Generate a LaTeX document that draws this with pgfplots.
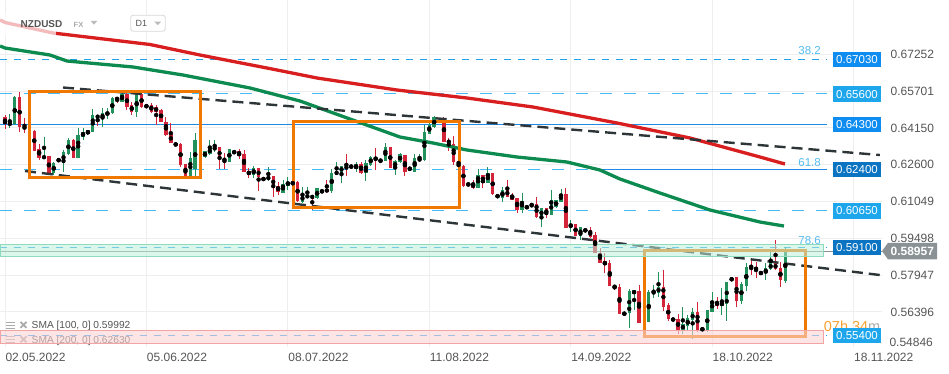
\documentclass[border=0pt]{standalone}
\usepackage{pgfplots}
\usepackage{pgfplotstable}
\pgfplotsset{compat=1.18}
\usepackage{fontspec}
\setmainfont{Liberation Sans}
\newcommand\fs[1]{\fontsize{#1}{#1}\selectfont}
\definecolor{gridc}{HTML}{EEEEEE}
\definecolor{labc}{HTML}{555555}
\definecolor{cg}{HTML}{23915C}
\definecolor{cr}{HTML}{D3243A}
\definecolor{smar}{HTML}{D81E1E}
\definecolor{smag}{HTML}{0C8A4F}
\definecolor{trend}{HTML}{2E3538}
\definecolor{orng}{HTML}{F07800}
\definecolor{orng2}{HTML}{F7A030}
\definecolor{lvla}{HTML}{1FA2EC}
\definecolor{lvlb}{HTML}{45BBF3}
\definecolor{lvls}{HTML}{1E8AE6}
\definecolor{boxa}{HTML}{0E8CF0}
\definecolor{boxb}{HTML}{1DA6EC}
\definecolor{boxc}{HTML}{0A74C2}
\definecolor{tagg}{HTML}{8A9295}
\definecolor{fibc}{HTML}{55BBEE}
\definecolor{bandg}{HTML}{BDEEDB}
\definecolor{bandgb}{HTML}{8FDBBE}
\definecolor{bandp}{HTML}{FBD3D3}
\definecolor{bandpb}{HTML}{F2A3A3}
\definecolor{icon}{HTML}{AAAAAA}

\pgfplotstableread{
i o h l c
1 0.64272 0.64723 0.64133 0.64369
2 0.64315 0.65495 0.64294 0.65440
8 0.62869 0.63779 0.62840 0.62966
10 0.62237 0.62713 0.62165 0.62684
11 0.62743 0.62861 0.62722 0.62840
12 0.62671 0.63219 0.62305 0.63147
13 0.63050 0.63712 0.63008 0.63640
15 0.62895 0.64159 0.62882 0.63851
16 0.63779 0.64133 0.63640 0.63965
17 0.63881 0.64083 0.63851 0.64049
18 0.63990 0.64947 0.63969 0.64694
20 0.64538 0.64976 0.64201 0.64766
21 0.64694 0.64976 0.64525 0.64833
22 0.64766 0.65465 0.64736 0.65398
24 0.65254 0.65676 0.65233 0.65566
27 0.64808 0.65676 0.64622 0.65566
35 0.63409 0.63514 0.63396 0.63501
38 0.62136 0.63135 0.62115 0.62869
39 0.62406 0.63948 0.62123 0.63640
41 0.62911 0.63198 0.62890 0.63177
42 0.63050 0.63640 0.63008 0.63303
43 0.63219 0.63640 0.63147 0.63358
46 0.62726 0.63282 0.62713 0.63261
47 0.63080 0.63198 0.63059 0.63177
51 0.62165 0.62545 0.62026 0.62473
53 0.61925 0.62081 0.61913 0.62069
54 0.61955 0.62490 0.61925 0.62123
57 0.61420 0.61955 0.61394 0.61786
58 0.61715 0.62094 0.61533 0.61883
59 0.61786 0.61871 0.61765 0.61858
61 0.61040 0.61673 0.60998 0.61323
62 0.61209 0.61673 0.61184 0.61323
64 0.61184 0.61618 0.61167 0.61605
65 0.61420 0.61555 0.61407 0.61533
67 0.61491 0.62406 0.61420 0.62263
68 0.62178 0.62726 0.62165 0.62334
69 0.62263 0.62566 0.61841 0.62545
72 0.62431 0.62726 0.62279 0.62629
74 0.62263 0.62798 0.61925 0.62684
75 0.62587 0.62966 0.62566 0.62937
77 0.62701 0.62861 0.62659 0.62852
78 0.62768 0.63527 0.62755 0.63358
80 0.62473 0.62798 0.62165 0.62755
81 0.62701 0.63105 0.62659 0.63038
84 0.62305 0.63038 0.62292 0.62882
85 0.62755 0.63038 0.62734 0.62882
86 0.62798 0.64272 0.62768 0.63990
87 0.63893 0.64369 0.63881 0.64272
88 0.64201 0.64652 0.64133 0.64597
95 0.61723 0.61828 0.61710 0.61816
97 0.61639 0.62439 0.61618 0.62165
99 0.61841 0.62490 0.61816 0.62237
102 0.61217 0.61647 0.61040 0.61555
106 0.60712 0.61420 0.60552 0.61070
107 0.60762 0.60872 0.60745 0.60859
108 0.60817 0.61007 0.60804 0.60956
110 0.60383 0.60775 0.59987 0.60762
112 0.60493 0.61533 0.60480 0.61112
113 0.60804 0.61133 0.60788 0.61112
114 0.61028 0.61597 0.61015 0.61386
116 0.59962 0.60269 0.59776 0.60122
118 0.59595 0.59974 0.59426 0.59962
128 0.56338 0.57349 0.55705 0.57277
129 0.57151 0.57319 0.56477 0.57307
132 0.55984 0.57319 0.55971 0.57222
133 0.57151 0.57530 0.56970 0.57277
134 0.57206 0.58091 0.57037 0.57433
137 0.56026 0.56139 0.56013 0.56127
139 0.55634 0.56616 0.55465 0.55874
140 0.55815 0.56266 0.55634 0.56127
141 0.56055 0.56574 0.55255 0.56380
144 0.55604 0.56477 0.55562 0.56464
145 0.56405 0.57222 0.56380 0.56869
147 0.56658 0.57416 0.56266 0.56801
148 0.56729 0.57678 0.56026 0.57669
149 0.57711 0.57846 0.57699 0.57838
151 0.56869 0.57669 0.56729 0.57560
152 0.57501 0.58445 0.57290 0.58301
156 0.58023 0.58445 0.57741 0.58234
157 0.58192 0.58933 0.58183 0.58445
160 0.57711 0.59144 0.57602 0.58957
}\upT

\pgfplotstableread{
i o h l c
0 0.64597 0.64694 0.64091 0.64315
3 0.65440 0.65676 0.63965 0.64176
4 0.64218 0.64555 0.63923 0.64104
6 0.64020 0.64062 0.63177 0.63189
7 0.63261 0.63459 0.62785 0.62895
9 0.62966 0.62987 0.62165 0.62237
14 0.63640 0.63683 0.62882 0.62895
19 0.64694 0.64715 0.64243 0.64555
23 0.65440 0.65473 0.65187 0.65313
25 0.65566 0.65676 0.64905 0.65044
26 0.65115 0.65254 0.64694 0.64808
28 0.65566 0.65608 0.65002 0.65044
29 0.65115 0.65136 0.64989 0.65018
30 0.65115 0.65187 0.64799 0.64833
31 0.65031 0.65115 0.64272 0.64820
32 0.64905 0.64926 0.64390 0.64412
33 0.64412 0.64610 0.63830 0.63851
34 0.63893 0.64344 0.63514 0.63527
36 0.63472 0.63527 0.62515 0.62587
37 0.62629 0.62650 0.61984 0.62136
44 0.63345 0.63366 0.62406 0.62827
45 0.62895 0.63080 0.62431 0.62726
48 0.63177 0.63261 0.62827 0.62979
49 0.63050 0.63219 0.62292 0.62305
50 0.62347 0.62448 0.62052 0.62165
52 0.62448 0.62460 0.61491 0.62069
55 0.62123 0.62144 0.61251 0.61630
56 0.61702 0.61883 0.61323 0.61449
60 0.61883 0.61925 0.61049 0.61070
63 0.61323 0.61344 0.60691 0.61167
66 0.61576 0.61955 0.61420 0.61449
70 0.62545 0.63050 0.62136 0.62418
71 0.62574 0.62587 0.62448 0.62473
73 0.62629 0.62726 0.62220 0.62237
76 0.62924 0.63316 0.62376 0.62798
79 0.63333 0.63345 0.62460 0.62473
82 0.63008 0.63029 0.62136 0.62305
83 0.62473 0.62515 0.62355 0.62376
90 0.64555 0.64622 0.63556 0.63569
91 0.63640 0.63712 0.63189 0.63501
92 0.63459 0.63809 0.62587 0.62726
93 0.62755 0.62798 0.62376 0.62587
94 0.62566 0.62587 0.61660 0.61689
96 0.61816 0.61955 0.61597 0.61618
98 0.62165 0.62187 0.61618 0.61841
100 0.62237 0.62250 0.61335 0.61352
101 0.61323 0.61335 0.61209 0.61226
103 0.61555 0.61955 0.61238 0.61251
104 0.61323 0.61407 0.61112 0.61125
105 0.61205 0.61217 0.60585 0.60691
109 0.60943 0.61260 0.60375 0.60383
111 0.60762 0.60775 0.60353 0.60493
115 0.61378 0.61605 0.59932 0.59945
117 0.60101 0.60122 0.59582 0.59595
119 0.59890 0.59902 0.59764 0.59776
120 0.59848 0.59987 0.59523 0.59540
121 0.59637 0.59776 0.58879 0.58891
122 0.58891 0.59089 0.58445 0.58470
123 0.58541 0.58866 0.58023 0.58373
124 0.58445 0.58584 0.57475 0.57488
125 0.57530 0.57543 0.57319 0.57391
126 0.57433 0.57572 0.56295 0.56308
127 0.56380 0.56392 0.56253 0.56266
130 0.57298 0.57530 0.55937 0.55950
135 0.57433 0.58162 0.56447 0.56616
136 0.56687 0.56759 0.56013 0.56085
138 0.56085 0.56295 0.55465 0.55634
142 0.56380 0.56801 0.55562 0.55634
143 0.55705 0.55718 0.55613 0.55634
146 0.56826 0.57037 0.56519 0.56658
150 0.57855 0.57880 0.56616 0.56869
153 0.58301 0.58655 0.57951 0.58192
154 0.58301 0.58487 0.57838 0.58133
155 0.58091 0.58120 0.57951 0.57981
158 0.58445 0.59426 0.58162 0.58192
159 0.58259 0.58512 0.57433 0.57741
}\downT

\pgfplotstableread{
i p
-1.0 0.68700
0 0.68592
9.84 0.68149
29.73 0.67665
39.98 0.67222
53.72 0.66674
63.97 0.66253
80.38 0.65747
94.73 0.65410
108.26 0.65031
125.49 0.64357
140.46 0.63725
154.81 0.62924
159.93 0.62629
}\smaTwo

\pgfplotstableread{
i p
-1.0 0.67602
0 0.67517
9.23 0.67222
12.71 0.66969
26.25 0.66717
36.50 0.66379
50.24 0.65832
60.49 0.65284
70.74 0.64525
80.99 0.63767
87.76 0.63514
94.73 0.63219
104.98 0.62924
115.23 0.62713
122.0 0.62376
126.1 0.61997
134.3 0.61407
144.55 0.60691
154.81 0.60185
159.73 0.60016
}\smaOne

\begin{document}
\begin{tikzpicture}
% legend (under the bands)
\begin{scope}[x=1pt, y=-1pt, shift={(0pt,346.9pt)}]
  \foreach \yy in {0,14.5}{
    \draw[icon, line width=1.2pt] (6,322.3+\yy) -- (15,322.3+\yy) (6,325.3+\yy) -- (15,325.3+\yy) (6,328.3+\yy) -- (15,328.3+\yy);
    \draw[icon, line width=1.7pt] (20.5,321.8+\yy) -- (26.5,327.8+\yy) (20.5,327.8+\yy) -- (26.5,321.8+\yy);
  }
  \node[anchor=west, inner sep=0pt, text=labc, font=\fs{10.2}] at (31.5,326.3) {SMA [100, 0] 0.59992};
  \node[anchor=west, inner sep=0pt, text=labc, font=\fs{10.2}] at (31.5,340.8) {SMA [200, 0] 0.62630};
\end{scope}

\begin{axis}[
  at={(0pt,0pt)}, anchor=south west,
  scale only axis, width=882pt, height=346.9pt,
  xmin=-1.025, xmax=179.83, ymin=0.54922, ymax=0.6954,
  axis x line=bottom, axis y line=right,
  axis line style={draw=none, -},
  tick style={draw=none},
  xtick={0,29,58,87,116,145,174},
  xticklabels={02.05.2022,05.06.2022,08.07.2022,11.08.2022,14.09.2022,18.10.2022,18.11.2022},
  ytick={0.56396,0.57947,0.59498,0.61049,0.62600,0.64150,0.65701,0.67252},
  yticklabels={0.56396,0.57947,0.59498,0.61049,0.62600,0.64150,0.65701,0.67252},
  grid=major, major grid style={draw=gridc, line width=0.9pt},
  xticklabel style={anchor=north west, font=\fs{12}, text=labc, xshift=-3pt, yshift=-0.5pt},
  yticklabel style={anchor=west, font=\fs{12}, text=labc, xshift=3pt},
  clip=false,
]
% level lines
\addplot[draw=lvla, line width=1pt, dash pattern=on 7pt off 7pt] coordinates {(-1.025,0.67030) (168.55,0.67030)};
\addplot[draw=lvlb, line width=1pt, dash pattern=on 12pt off 12pt] coordinates {(-1.025,0.65600) (168.55,0.65600)};
\addplot[draw=lvls, line width=1.1pt] coordinates {(-1.025,0.64300) (168.55,0.64300)};
\addplot[draw=lvlb, line width=1pt, dash pattern=on 12pt off 12pt] coordinates {(-1.025,0.62400) (121.2,0.62400)};
\addplot[draw=lvls, line width=1.1pt] coordinates {(121.2,0.62400) (168.55,0.62400)};
\addplot[draw=lvlb, line width=1pt, dash pattern=on 12pt off 12pt] coordinates {(-1.025,0.60650) (168.55,0.60650)};
\addplot[draw=lvla, line width=1pt, dash pattern=on 7pt off 7pt] coordinates {(-1.025,0.59100) (168.55,0.59100)};
\addplot[draw=lvla, line width=1pt, dash pattern=on 7pt off 7pt] coordinates {(-1.025,0.55400) (168.55,0.55400)};
\addplot[draw=tagg, line width=0.7pt] coordinates {(-1.025,0.58957) (179.83,0.58957)};

% candles: wicks
\addplot[only marks, mark=none, forget plot, error bars/.cd, y dir=both, y explicit, error mark=none,
  error bar style={draw=cg, line width=0.9pt}]
  table[x=i, y expr={(\thisrow{h}+\thisrow{l})/2}, y error expr={(\thisrow{h}-\thisrow{l})/2}] \upT;
\addplot[only marks, mark=none, forget plot, error bars/.cd, y dir=both, y explicit, error mark=none,
  error bar style={draw=cr, line width=0.9pt}]
  table[x=i, y expr={(\thisrow{h}+\thisrow{l})/2}, y error expr={(\thisrow{h}-\thisrow{l})/2}] \downT;
% candles: bodies
\addplot[only marks, mark=none, forget plot, error bars/.cd, y dir=both, y explicit, error mark=none,
  error bar style={draw=cg, line width=3.4pt}]
  table[x=i, y expr={(\thisrow{o}+\thisrow{c})/2}, y error expr={max(abs(\thisrow{c}-\thisrow{o})/2,0.0004)}] \upT;
\addplot[only marks, mark=none, forget plot, error bars/.cd, y dir=both, y explicit, error mark=none,
  error bar style={draw=cr, line width=3.4pt}]
  table[x=i, y expr={(\thisrow{o}+\thisrow{c})/2}, y error expr={max(abs(\thisrow{c}-\thisrow{o})/2,0.0004)}] \downT;

% moving averages
\addplot[draw=smar, line width=3.3pt, line join=round] table[x=i, y=p] \smaTwo;
\addplot[draw=smag, line width=3.3pt, line join=round] table[x=i, y=p] \smaOne;

% trend lines
\addplot[draw=trend, line width=2.4pt, dash pattern=on 11pt off 6pt] coordinates {(11.89,0.65853) (179.4,0.63008)};
\addplot[draw=trend, line width=2.4pt, dash pattern=on 11pt off 6pt] coordinates {(4.10,0.62334) (179.4,0.57951)};

% orange boxes
\addplot[draw=orng, line width=3pt, line join=miter] coordinates {(5.06,0.65697) (40.05,0.65697) (40.05,0.62081) (5.06,0.62081)} -- cycle;
\addplot[draw=orng, line width=3pt, line join=miter] coordinates {(59.12,0.64412) (93.16,0.64412) (93.16,0.60804) (59.12,0.60804)} -- cycle;
\addplot[draw=orng, line width=3pt, line join=miter] coordinates {(131.1,0.58976) (164.2,0.58976) (164.2,0.55381) (131.1,0.55381)} -- cycle;

% bands
\addplot[draw=bandgb, line width=0.9pt, fill=bandg, fill opacity=0.55] coordinates {(-1.025,0.59245) (167.9,0.59245) (167.9,0.58731) (-1.025,0.58731)} -- cycle;
\addplot[draw=bandpb, line width=0.9pt, fill=bandp, fill opacity=0.6] coordinates {(-1.025,0.55604) (167.9,0.55604) (167.9,0.55073) (-1.025,0.55073)} -- cycle;
\end{axis}

\begin{scope}[x=1pt, y=-1pt, shift={(0pt,346.9pt)}]
  % faded header area
  \fill[white, fill opacity=0.7] (0,13) rectangle (56,36);
  \node[anchor=west, inner sep=0pt, text=labc, font=\fs{10}\bfseries] at (20.5,23.7) {NZDUSD};
  \node[anchor=west, inner sep=0pt, text=icon, font=\fs{7.5}\bfseries] at (73.5,24.5) {FX};
  \fill[icon!80] (90.5,20.8) -- (97.5,20.8) -- (94,24.6) -- cycle;
  \draw[gridc!80!gray, line width=0.8pt, rounded corners=2.5pt, fill=white] (130.7,15.2) rectangle (165.3,31.2);
  \node[anchor=west, inner sep=0pt, text=labc, font=\fs{9}] at (135.5,23.5) {D1};
  \fill[icon!80] (154.2,21.6) -- (161.2,21.6) -- (157.7,25.2) -- cycle;

  % fib labels
  \node[anchor=east, inner sep=0pt, text=fibc, font=\fs{11.5}] at (821,50.2) {38.2};
  \node[anchor=east, inner sep=0pt, text=fibc, font=\fs{11.5}] at (821,162.3) {61.8};
  \node[anchor=east, inner sep=0pt, text=fibc, font=\fs{11.5}] at (821,240.2) {78.6};

  % countdown
  \node[anchor=east, inner sep=0pt, font=\fs{14.5}] at (880.5,326.5) {\textcolor{orng2}{07h 34}\textcolor{icon}{m}};

  % level boxes
  \tikzset{lbox/.style={inner sep=0pt, minimum width=47.4pt, minimum height=15.5pt, text=white, font=\fs{11.5}}}
  \node[lbox, fill=boxa] at (857,59.6) {0.67030};
  \node[lbox, fill=boxb] at (857,94.2) {0.65600};
  \node[lbox, fill=boxa] at (857,124.3) {0.64300};
  \node[lbox, fill=boxc] at (857,169.4) {0.62400};
  \node[lbox, fill=boxb] at (857,211.0) {0.60650};
  \node[lbox, fill=boxc] at (857,247.6) {0.59100};
  \node[lbox, fill=boxb] at (857,335.3) {0.55400};

  % current price tag
  \fill[tagg] (882,251.1) -- (888,242.8) -- (937,242.8) -- (937,259.4) -- (888,259.4) -- cycle;
  \node[inner sep=0pt, text=white, font=\fs{12}\bfseries] at (912.3,251.3) {0.58957};

  % clamped bottom tick label
  \node[anchor=west, inner sep=0pt, text=labc, font=\fs{12}] at (889.3,342) {0.54846};
\end{scope}

\pgfresetboundingbox
\path[use as bounding box] (0pt,346.9pt) rectangle (949pt,-26.1pt);
\end{tikzpicture}
\end{document}
